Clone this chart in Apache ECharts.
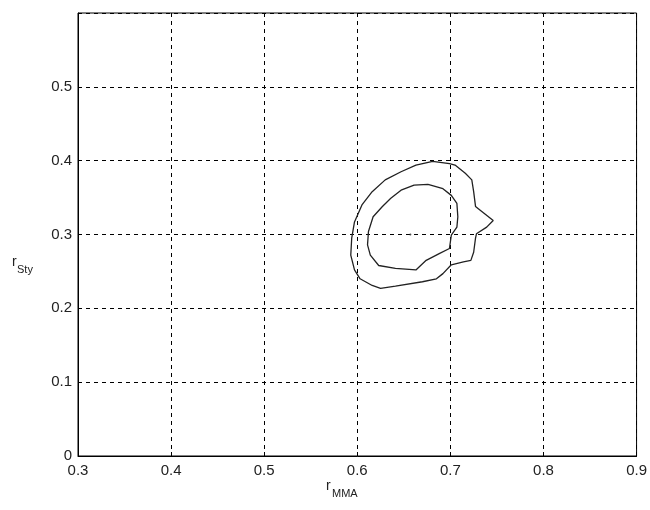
<!DOCTYPE html>
<html>
<head>
<meta charset="utf-8">
<script src="https://cdn.jsdelivr.net/npm/echarts@6/dist/echarts.min.js"></script>
<style>
  html, body { margin: 0; padding: 0; background: #fff; }
  #chart { width: 650px; height: 510px; }
</style>
</head>
<body>
<div id="chart"></div>
<script>
// contour levels as [rMMA, rSty]
const outerContour = [
  [0.681, 0.399], [0.699, 0.396], [0.705, 0.394], [0.716, 0.383], [0.723, 0.374],
  [0.725, 0.358], [0.727, 0.338], [0.730, 0.335], [0.746, 0.319], [0.739, 0.310],
  [0.728, 0.301], [0.727, 0.295], [0.725, 0.276], [0.722, 0.265], [0.714, 0.263],
  [0.701, 0.259], [0.692, 0.247], [0.685, 0.240], [0.670, 0.236], [0.641, 0.230],
  [0.625, 0.227], [0.616, 0.231], [0.603, 0.240], [0.597, 0.252], [0.593, 0.272],
  [0.594, 0.295], [0.597, 0.317], [0.605, 0.340], [0.616, 0.358], [0.630, 0.374],
  [0.647, 0.385], [0.663, 0.394], [0.681, 0.399]
];
const innerContour = [
  [0.676, 0.368], [0.692, 0.362], [0.701, 0.353], [0.707, 0.342], [0.708, 0.324],
  [0.707, 0.310], [0.701, 0.299], [0.699, 0.281], [0.688, 0.274], [0.674, 0.265],
  [0.663, 0.252], [0.641, 0.254], [0.623, 0.258], [0.614, 0.272], [0.611, 0.286],
  [0.612, 0.304], [0.617, 0.324], [0.627, 0.338], [0.636, 0.349], [0.647, 0.360],
  [0.661, 0.367], [0.676, 0.368]
];
const peakPoint = [[0.657, 0.300]];

const xMin = 0.3, xMax = 0.9, xStep = 0.1;
const yMin = 0, yMax = 0.6, yStep = 0.1;

const chart = echarts.init(document.getElementById("chart"));

const labelFont = {
  color: "#222",
  fontSize: 15,
  fontFamily: "Liberation Sans, Arial, sans-serif"
};
const dashed = { show: true, lineStyle: { color: "#000", type: [4, 4], width: 1 } };

const option = {
  animation: false,
  grid: {
    left: 78, right: 12, top: 13, bottom: 54,
    show: true, borderColor: "#000", borderWidth: 1
  },
  xAxis: {
    type: "value",
    min: xMin, max: xMax, interval: xStep,
    axisLine: { show: true, lineStyle: { color: "#000", width: 1 } },
    axisTick: { show: true, inside: true, length: 4, lineStyle: { color: "#000" } },
    splitLine: dashed,
    axisLabel: Object.assign({ margin: 7, formatter: (v) => +v.toFixed(1) + "" }, labelFont)
  },
  yAxis: {
    type: "value",
    min: yMin, max: yMax, interval: yStep,
    axisLine: { show: true, lineStyle: { color: "#000", width: 1 } },
    axisTick: { show: true, inside: true, length: 4, lineStyle: { color: "#000" } },
    splitLine: dashed,
    axisLabel: Object.assign({
      margin: 6,
      showMaxLabel: false,
      formatter: (v) => +v.toFixed(1) + ""
    }, labelFont)
  },
  graphic: [
    { type: "text", left: 326, top: 479, style: { text: "r", fontSize: 14, fill: "#222", fontFamily: "Liberation Sans, Arial" } },
    { type: "text", left: 332, top: 488, style: { text: "MMA", fontSize: 11, fill: "#222", fontFamily: "Liberation Sans, Arial" } },
    { type: "text", left: 12, top: 255, style: { text: "r", fontSize: 14, fill: "#222", fontFamily: "Liberation Sans, Arial" } },
    { type: "text", left: 17, top: 264, style: { text: "Sty", fontSize: 11, fill: "#222", fontFamily: "Liberation Sans, Arial" } }
  ],
  series: [
    {
      type: "line", data: outerContour, showSymbol: false, symbol: "none",
      lineStyle: { color: "#222", width: 1.3 }, silent: true
    },
    {
      type: "line", data: innerContour, showSymbol: false, symbol: "none",
      lineStyle: { color: "#222", width: 1.3 }, silent: true
    },
    {
      type: "scatter", data: peakPoint, symbolSize: 2,
      itemStyle: { color: "#222" }, silent: true
    }
  ]
};

chart.setOption(option);
</script>
</body>
</html>
